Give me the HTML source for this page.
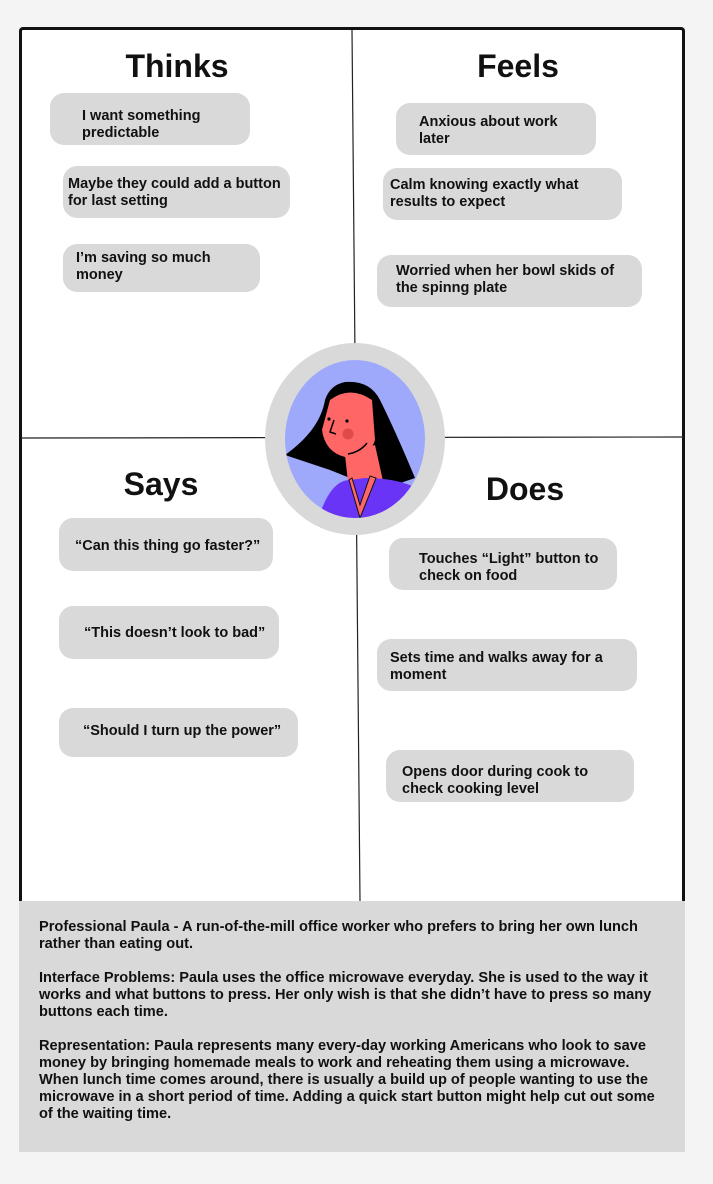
<!DOCTYPE html>
<html><head><meta charset="utf-8"><style>
*{margin:0;padding:0;box-sizing:border-box}
body{width:713px;height:1184px;background:#f4f4f4;position:relative;overflow:hidden;font-family:"Liberation Sans",sans-serif;color:#111}
.frame{position:absolute;left:19px;top:27px;width:666px;height:880px;background:#fff;border:3px solid #111;border-bottom:none;border-radius:4px 4px 0 0}
.b{position:absolute;background:#d9d9d9;border-radius:14px}
.t{position:absolute;font-weight:bold;font-size:14.5px;line-height:17px;white-space:nowrap}
.h{position:absolute;font-weight:bold;font-size:32px;transform:translateX(-50%);white-space:nowrap}
.grey{position:absolute;left:19px;top:901px;width:666px;height:251px;background:#d9d9d9}
.p{position:absolute;left:39px;font-weight:bold;font-size:14.6px;line-height:17px;white-space:nowrap}
</style></head><body>
<div class="frame"></div>
<svg style="position:absolute;left:0;top:0" width="713" height="1184">
<line x1="352" y1="30" x2="360" y2="901" stroke="#222" stroke-width="1.2"/>
<line x1="21" y1="438" x2="684" y2="437" stroke="#222" stroke-width="1.2"/>
<ellipse cx="355" cy="439" rx="90" ry="96" fill="#d9d9d9"/>
<clipPath id="c"><ellipse cx="355" cy="439" rx="70" ry="79"/></clipPath>
<ellipse cx="355" cy="439" rx="70" ry="79" fill="#9ea9fb"/>
<g clip-path="url(#c)">
<path d="M285 455 Q320 430 325 400 Q330 385 345 382 Q370 380 380 400 Q395 430 415 478 L380 490 L330 470 Z" fill="#000"/>
<path d="M330 400 Q350 385 372 400 L375 440 Q368 462 345 457 Q325 452 322 430 Z" fill="#f66"/>
<path d="M345 455 L375 445 L385 490 L350 500 Z" fill="#f66"/>
<path d="M318 520 Q330 480 350 480 L365 478 Q400 478 420 490 L430 530 L310 530 Z" fill="#6a34f6"/>
<path d="M349 480 L360 518 L376 478 L370 476 L360 505 L352 478 Z" fill="#f66" stroke="#111" stroke-width="1"/>
<circle cx="348" cy="434" r="5.5" fill="#e04a4a"/>
<circle cx="329" cy="419" r="1.6" fill="#000"/><circle cx="347" cy="421" r="1.6" fill="#000"/>
<path d="M334 420 L330 432 L336 434" fill="none" stroke="#000" stroke-width="1.5"/>
<path d="M348 454 Q360 452 367 443" fill="none" stroke="#000" stroke-width="1.5"/>
</g>
</svg>
<div class="h" style="left:177px;top:48px">Thinks</div>
<div class="h" style="left:518px;top:48px">Feels</div>
<div class="h" style="left:161px;top:466px">Says</div>
<div class="h" style="left:525px;top:471px">Does</div>

<div class="b" style="left:50px;top:93px;width:200px;height:52px"></div><div class="t" style="left:82px;top:108px">I want something<br>predictable</div>
<div class="b" style="left:63px;top:166px;width:227px;height:52px"></div><div class="t" style="left:68px;top:176px">Maybe they could add a button<br>for last setting</div>
<div class="b" style="left:63px;top:244px;width:197px;height:48px"></div><div class="t" style="left:76px;top:250px">I’m saving so much<br>money</div>

<div class="b" style="left:396px;top:103px;width:200px;height:52px"></div><div class="t" style="left:419px;top:114px">Anxious about work<br>later</div>
<div class="b" style="left:383px;top:168px;width:239px;height:52px"></div><div class="t" style="left:390px;top:177px">Calm knowing exactly what<br>results to expect</div>
<div class="b" style="left:377px;top:255px;width:265px;height:52px"></div><div class="t" style="left:396px;top:263px">Worried when her bowl skids of<br>the spinng plate</div>

<div class="b" style="left:59px;top:518px;width:214px;height:53px"></div><div class="t" style="left:75px;top:538px">“Can this thing go faster?”</div>
<div class="b" style="left:59px;top:606px;width:220px;height:53px"></div><div class="t" style="left:84px;top:625px">“This doesn’t look to bad”</div>
<div class="b" style="left:59px;top:708px;width:239px;height:49px"></div><div class="t" style="left:83px;top:723px">“Should I turn up the power”</div>

<div class="b" style="left:389px;top:538px;width:228px;height:52px"></div><div class="t" style="left:419px;top:551px">Touches “Light” button to<br>check on food</div>
<div class="b" style="left:377px;top:639px;width:260px;height:52px"></div><div class="t" style="left:390px;top:650px">Sets time and walks away for a<br>moment</div>
<div class="b" style="left:386px;top:750px;width:248px;height:52px"></div><div class="t" style="left:402px;top:764px">Opens door during cook to<br>check cooking level</div>

<div class="grey"></div>
<div class="p" style="top:919px">Professional Paula - A run-of-the-mill office worker who prefers to bring her own lunch<br>rather than eating out.</div>
<div class="p" style="top:970px">Interface Problems: Paula uses the office microwave everyday. She is used to the way it<br>works and what buttons to press. Her only wish is that she didn’t have to press so many<br>buttons each time.</div>
<div class="p" style="top:1038px">Representation: Paula represents many every-day working Americans who look to save<br>money by bringing homemade meals to work and reheating them using a microwave.<br>When lunch time comes around, there is usually a build up of people wanting to use the<br>microwave in a short period of time. Adding a quick start button might help cut out some<br>of the waiting time.</div>
</body></html>
